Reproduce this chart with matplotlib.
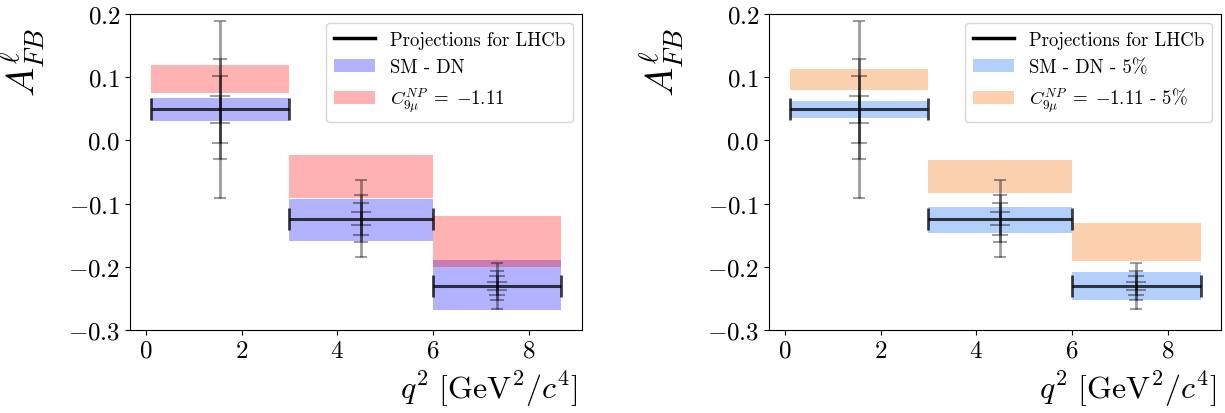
"""
A_FB projections for LHCb vs SM / NP predictions, two panels
"""
import matplotlib
matplotlib.use("Agg")
import matplotlib.pyplot as plt
from matplotlib.lines import Line2D
from matplotlib.patches import Patch
import numpy as np

plt.rcParams['font.family'] = 'serif'
plt.rcParams['font.serif'] = ['cmr10']
plt.rcParams['mathtext.fontset'] = 'cm'
plt.rcParams['axes.formatter.use_mathtext'] = True

# q2 bins
bin_lo = np.array([0.1, 3.0, 6.0])
bin_hi = np.array([3.0, 6.0, 8.68])

# projected central values and uncertainties (several scenarios)
proj_central = np.array([0.049, -0.124, -0.230])
proj_errs = [
    np.array([0.140, 0.061, 0.036]),
    np.array([0.079, 0.037, 0.023]),
    np.array([0.053, 0.025, 0.015]),
    np.array([0.022, 0.0105, 0.0063]),
]

# left panel bands
sm_lo = np.array([0.031, -0.159, -0.269])
sm_hi = np.array([0.067, -0.092, -0.189])
np_lo = np.array([0.075, -0.091, -0.200])
np_hi = np.array([0.119, -0.023, -0.120])

# right panel bands (5%)
sm5_lo = np.array([0.035, -0.1465, -0.252])
sm5_hi = np.array([0.062, -0.106, -0.209])
np5_lo = np.array([0.080, -0.083, -0.191])
np5_hi = np.array([0.113, -0.031, -0.131])

labels_left = ["Projections for LHCb", "SM - DN", r"$C_{9\mu}^{NP}\;=\;{-1.11}$"]
labels_right = ["Projections for LHCb", "SM - DN - 5%", r"$C_{9\mu}^{NP}\;=\;{-1.11}$ - 5%"]

fig = plt.figure(figsize=(12.25, 4.14), dpi=100)
ax1 = fig.add_axes([0.1061, 0.2005, 0.369, 0.7633])
ax2 = fig.add_axes([0.6278, 0.2005, 0.369, 0.7633])


def draw(ax, slo, shi, nlo, nhi, c_sm, c_np, a_sm, a_np, labels):
    centers = (bin_lo + bin_hi) / 2
    widths = bin_hi - bin_lo
    ax.bar(centers, shi - slo, bottom=slo, width=widths, color=c_sm, alpha=a_sm, lw=0)
    ax.bar(centers, nhi - nlo, bottom=nlo, width=widths, color=c_np, alpha=a_np, lw=0)
    caps = [4, 5, 6, 7]
    for err, cs in zip(proj_errs, caps):
        ax.errorbar(centers, proj_central, yerr=err, fmt='none', ecolor='black',
                    alpha=0.38, elinewidth=2, capsize=cs, capthick=1.5)
    ax.errorbar(centers, proj_central, xerr=widths / 2, fmt='none', ecolor='black',
                alpha=0.75, elinewidth=2.2, capsize=8, capthick=2)
    ax.set_ylim(-0.3, 0.2)
    ax.set_xticks([0, 2, 4, 6, 8])
    ax.set_yticks([-0.3, -0.2, -0.1, 0.0, 0.1, 0.2])
    ax.tick_params(labelsize=18)
    ax.set_xlabel(r"$q^2\ [\mathrm{GeV}^2/c^4]$", fontsize=23, loc='right', labelpad=5)
    ax.xaxis.label.set_x(0.99)
    ax.set_ylabel(r"$A_{FB}^{\ell}$", fontsize=28, loc='top', labelpad=15)
    ax.yaxis.label.set_y(0.96)
    handles = [Line2D([], [], color='black', lw=2.5),
               Patch(color=c_sm, alpha=a_sm, lw=0),
               Patch(color=c_np, alpha=a_np, lw=0)]
    ax.legend(handles, labels, loc='upper right', fontsize=13.5, handlelength=2.2)


draw(ax1, sm_lo, sm_hi, np_lo, np_hi, 'blue', 'red', 0.3, 0.3, labels_left)
draw(ax2, sm5_lo, sm5_hi, np5_lo, np5_hi, '#b2d0fb', '#fcd1b0', 1.0, 1.0, labels_right)

plt.savefig("out.png", dpi=100)
